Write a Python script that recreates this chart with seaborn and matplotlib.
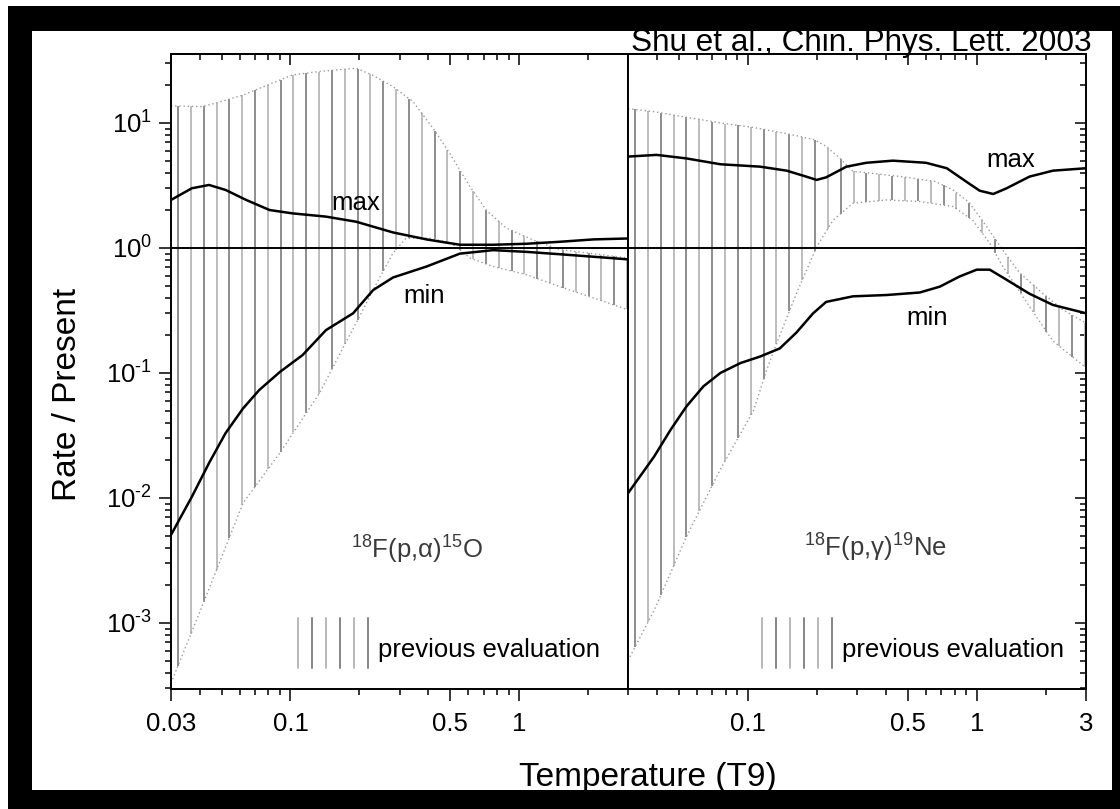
import numpy as np
import matplotlib
matplotlib.use("Agg")
import matplotlib.pyplot as plt
import seaborn as sns
from matplotlib import font_manager
from matplotlib.patches import Rectangle
from matplotlib.ticker import FixedLocator, NullFormatter, FuncFormatter, LogLocator

# ---------------- data ----------------
# 18F(p,alpha)15O  (left panel)
pa_max_T = [0.03, 0.037, 0.044, 0.052, 0.064, 0.081, 0.102, 0.143, 0.194, 0.281, 0.394, 0.551, 0.771, 1.08, 1.51, 2.12, 3.0]
pa_max_R = [2.42, 3.0, 3.19, 2.91, 2.42, 2.01, 1.89, 1.78, 1.62, 1.33, 1.17, 1.06, 1.06, 1.08, 1.12, 1.17, 1.19]
pa_min_T = [0.03, 0.037, 0.044, 0.052, 0.062, 0.073, 0.09, 0.113, 0.143, 0.188, 0.23, 0.281, 0.394, 0.551, 0.771, 1.08, 1.51, 2.12, 3.0]
pa_min_R = [5.06e-3, 0.0102, 0.019, 0.033, 0.052, 0.073, 0.102, 0.139, 0.22, 0.30, 0.46, 0.58, 0.71, 0.90, 0.96, 0.93, 0.89, 0.85, 0.81]
pa_prev_hi_T = [0.03, 0.041, 0.047, 0.062, 0.073, 0.102, 0.134, 0.194, 0.23, 0.281, 0.344, 0.42, 0.498, 0.61, 0.72, 0.88, 1.15, 1.51, 2.1, 3.0]
pa_prev_hi_R = [13.7, 13.5, 14.4, 16.7, 18.9, 24.2, 25.8, 27.4, 24.0, 19.5, 14.8, 9.1, 5.7, 3.1, 2.0, 1.44, 1.16, 0.97, 0.90, 0.83]
pa_prev_lo_T = [0.03, 0.041, 0.062, 0.09, 0.134, 0.176, 0.2, 0.238, 0.281, 0.32, 0.40, 0.50, 0.56, 0.61, 0.77, 1.08, 1.51, 2.1, 3.0]
pa_prev_lo_R = [3.3e-4, 1.35e-3, 9.1e-3, 0.023, 0.069, 0.18, 0.28, 0.52, 0.91, 1.19, 1.2, 1.1, 0.95, 0.83, 0.71, 0.61, 0.49, 0.40, 0.32]

# 18F(p,gamma)19Ne  (right panel)
pg_max_T = [0.03, 0.04, 0.054, 0.076, 0.113, 0.148, 0.18, 0.2, 0.22, 0.27, 0.33, 0.43, 0.6, 0.74, 0.9, 1.03, 1.18, 1.35, 1.7, 2.15, 3.0]
pg_max_R = [5.38, 5.55, 5.2, 4.67, 4.47, 4.15, 3.72, 3.5, 3.67, 4.47, 4.8, 4.99, 4.8, 4.34, 3.39, 2.87, 2.7, 3.0, 3.72, 4.15, 4.34]
pg_min_T = [0.03, 0.039, 0.046, 0.054, 0.064, 0.076, 0.093, 0.113, 0.138, 0.163, 0.193, 0.22, 0.288, 0.404, 0.564, 0.69, 0.84, 1.0, 1.14, 1.3, 1.7, 2.15, 3.0]
pg_min_R = [0.0109, 0.0214, 0.035, 0.054, 0.078, 0.10, 0.12, 0.135, 0.157, 0.21, 0.30, 0.37, 0.41, 0.42, 0.44, 0.49, 0.59, 0.67, 0.67, 0.58, 0.43, 0.35, 0.30]
pg_prev_hi_T = [0.03, 0.039, 0.054, 0.076, 0.106, 0.148, 0.193, 0.22, 0.253, 0.288, 0.33, 0.48, 0.66, 0.79, 0.93, 1.1, 1.3, 1.54, 1.95, 2.38, 3.0]
pg_prev_hi_R = [13.0, 12.3, 11.1, 10.0, 9.2, 8.2, 7.4, 6.5, 5.2, 4.1, 4.0, 3.7, 3.4, 2.9, 2.3, 1.5, 0.96, 0.63, 0.43, 0.32, 0.25]
pg_prev_lo_T = [0.03, 0.039, 0.054, 0.076, 0.106, 0.121, 0.138, 0.163, 0.2, 0.236, 0.288, 0.404, 0.564, 0.79, 0.96, 1.14, 1.3, 1.7, 2.15, 3.0]
pg_prev_lo_R = [5.0e-4, 1.26e-3, 4.9e-3, 0.017, 0.05, 0.106, 0.20, 0.43, 1.02, 1.67, 2.28, 2.42, 2.35, 2.14, 1.67, 1.09, 0.71, 0.34, 0.18, 0.11]

x_major_left = [0.03, 0.1, 0.5, 1]
x_major_right = [0.1, 0.5, 1, 3]
x_minor = [0.04, 0.05, 0.06, 0.07, 0.08, 0.09, 0.2, 0.3, 0.4, 0.6, 0.7, 0.8, 0.9, 2, 3]

reaction_left = r"$^{18}$F(p,α)$^{15}$O"
reaction_right = r"$^{18}$F(p,γ)$^{19}$Ne"
legend_text = "previous evaluation"
x_label = "Temperature (T9)"
y_label = "Rate / Present"
citation = "Shu et al., Chin. Phys. Lett. 2003"

# ---------------- style ----------------
sns.set_style("ticks")
plt.rcParams["font.family"] = ["Liberation Sans", "DejaVu Sans"]
plt.rcParams["mathtext.fontset"] = "custom"
plt.rcParams["mathtext.rm"] = "Liberation Sans"
plt.rcParams["mathtext.default"] = "regular"
for k in ("text.color", "axes.labelcolor", "xtick.color", "ytick.color", "axes.edgecolor"):
    plt.rcParams[k] = "black"

_names = {f.name for f in font_manager.fontManager.ttflist}
if "Liberation Sans Narrow" in _names:
    cite_family, cite_size = ["Liberation Sans Narrow", "DejaVu Sans"], 27.5
else:
    cite_family, cite_size = ["Liberation Sans", "DejaVu Sans"], 22.7

W, H = 1120, 809
fig = plt.figure(figsize=(W / 100, H / 100), dpi=100, facecolor="white")


def fx(px):
    return px / W


def fy(py):
    return 1 - py / H


top, bot = 54, 689
axL = fig.add_axes([fx(171), fy(bot), (628 - 171) / W, (bot - top) / H])
axR = fig.add_axes([fx(628), fy(bot), (1086 - 628) / W, (bot - top) / H])

XLIM = (0.03, 3.0)
YLIM = (2.96e-4, 35.6)
DARK_H, LIGHT_H = "#858585", "#b8b8b8"


def draw_panel(ax, mx_T, mx_R, mn_T, mn_R, hi_T, hi_R, lo_T, lo_R):
    ax.set_xscale("log")
    ax.set_yscale("log")
    ax.set_xlim(*XLIM)
    ax.set_ylim(*YLIM)
    # hatch of previous evaluation: evenly spaced vertical strokes
    xh = 10 ** np.linspace(np.log10(0.0322), np.log10(2.97), 36)
    hi = 10 ** np.interp(np.log10(xh), np.log10(hi_T), np.log10(hi_R))
    lo = 10 ** np.interp(np.log10(xh), np.log10(lo_T), np.log10(lo_R))
    ok = hi > lo
    idx = np.arange(len(xh))
    for parity, col in ((0, DARK_H), (1, LIGHT_H)):
        m = ok & (idx % 2 == parity)
        ax.vlines(xh[m], lo[m], hi[m], color=col, lw=1.3, zorder=1)
    # dotted bounds
    sns.lineplot(x=hi_T, y=hi_R, ax=ax, color="#9a9a9a", lw=1.0,
                 linestyle=(0, (1, 2)), zorder=2)
    sns.lineplot(x=lo_T, y=lo_R, ax=ax, color="#9a9a9a", lw=1.0,
                 linestyle=(0, (1, 2)), zorder=2)
    ax.axhline(1.0, color="black", lw=1.4, zorder=2.5)
    sns.lineplot(x=mx_T, y=mx_R, ax=ax, color="black", lw=1.8, zorder=3)
    sns.lineplot(x=mn_T, y=mn_R, ax=ax, color="black", lw=1.8, zorder=3)
    for s in ax.spines.values():
        s.set_visible(True)
        s.set_linewidth(1.4)
        s.set_color("black")
    ax.set_xlabel("")
    ax.set_ylabel("")


draw_panel(axL, pa_max_T, pa_max_R, pa_min_T, pa_min_R,
           pa_prev_hi_T, pa_prev_hi_R, pa_prev_lo_T, pa_prev_lo_R)
draw_panel(axR, pg_max_T, pg_max_R, pg_min_T, pg_min_R,
           pg_prev_hi_T, pg_prev_hi_R, pg_prev_lo_T, pg_prev_lo_R)


def setup_x(ax, majors):
    ax.xaxis.set_major_locator(FixedLocator(majors))
    ax.xaxis.set_major_formatter(FuncFormatter(lambda v, p: f"{v:g}"))
    ax.xaxis.set_minor_locator(FixedLocator(x_minor))
    ax.xaxis.set_minor_formatter(NullFormatter())
    ax.tick_params(axis="x", which="major", direction="out", length=8.6,
                   width=1.1, labelsize=18.5, pad=8, top=False, bottom=True)
    ax.tick_params(axis="x", which="minor", direction="out", length=4.3,
                   width=1.1, top=False, bottom=True)
    sec = ax.secondary_xaxis("top")
    sec.xaxis.set_major_locator(FixedLocator(majors))
    sec.xaxis.set_minor_locator(FixedLocator(x_minor))
    sec.xaxis.set_major_formatter(NullFormatter())
    sec.xaxis.set_minor_formatter(NullFormatter())
    sec.tick_params(axis="x", which="major", direction="in", length=8.0, width=1.1)
    sec.tick_params(axis="x", which="minor", direction="in", length=4.3, width=1.1)
    sec.spines["top"].set_linewidth(1.4)


setup_x(axL, x_major_left)
setup_x(axR, x_major_right)


def yfmt_func(v, p):
    e = int(round(np.log10(v)))
    if e < 0:
        return r"$10^{\text{-}%d}$" % (-e)
    return r"$10^{%d}$" % e


for ax in (axL, axR):
    ax.yaxis.set_major_locator(LogLocator(base=10, numticks=20))
    ax.yaxis.set_minor_locator(LogLocator(base=10, subs=np.arange(2, 10), numticks=100))
    ax.yaxis.set_minor_formatter(NullFormatter())
axL.yaxis.set_major_formatter(FuncFormatter(yfmt_func))
axL.tick_params(axis="y", which="major", direction="out", length=8.6, width=1.1,
                labelsize=18.5, pad=5, left=True, right=False)
axL.tick_params(axis="y", which="minor", direction="out", length=4.3, width=1.1,
                left=True, right=False)
axR.tick_params(axis="y", which="major", direction="in", length=8.0, width=1.1,
                left=False, right=True, labelleft=False, labelright=False)
axR.tick_params(axis="y", which="minor", direction="in", length=4.3, width=1.1,
                left=False, right=True, labelleft=False, labelright=False)

# annotations
axL.text(0.193, 2.29, "max", fontsize=18.5, ha="center", va="center")
axL.text(0.383, 0.413, "min", fontsize=18.5, ha="center", va="center")
axR.text(1.41, 5.06, "max", fontsize=18.5, ha="center", va="center")
axR.text(0.605, 0.275, "min", fontsize=18.5, ha="center", va="center")
axL.text(0.538, 0.219, reaction_left, transform=axL.transAxes, fontsize=18.5,
         color="#3a3a3a", ha="center", va="center")
axR.text(0.541, 0.222, reaction_right, transform=axR.transAxes, fontsize=18.5,
         color="#3a3a3a", ha="center", va="center")

# legend keys ("previous evaluation")
for ax, x0, xt in ((axL, 0.278, 0.453), (axR, 0.293, 0.467)):
    xs = x0 + 0.0306 * np.arange(6)
    for i, xv in enumerate(xs):
        ax.plot([xv, xv], [0.033, 0.112], transform=ax.transAxes,
                color=LIGHT_H if i % 2 == 0 else DARK_H, lw=1.4, clip_on=False)
    ax.text(xt, 0.061, legend_text, transform=ax.transAxes, fontsize=18.5,
            ha="left", va="center")

fig.text(fx(67), fy(394), y_label, rotation=90, ha="center", va="center", fontsize=24)
fig.text(fx(648), fy(786), x_label, ha="center", va="baseline", fontsize=24)
fig.text(fx(1092), fy(51), citation, ha="right", va="baseline", fontsize=cite_size,
         family=cite_family, zorder=1)

# black scan border
for (x0, y0, x1, y1) in ((8, 6, 1120, 31), (8, 6, 32, 809), (1112, 6, 1120, 809), (8, 790, 1120, 809)):
    fig.add_artist(Rectangle((fx(x0), fy(y1)), (x1 - x0) / W, (y1 - y0) / H,
                             transform=fig.transFigure, facecolor="black",
                             edgecolor="none", zorder=10))

fig.savefig("out.png", dpi=100, facecolor="white")
